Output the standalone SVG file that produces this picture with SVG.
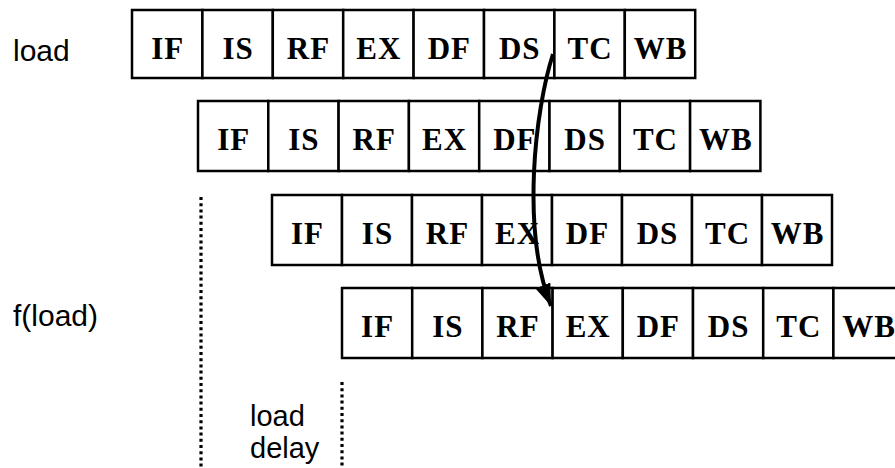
<svg xmlns="http://www.w3.org/2000/svg" width="895" height="468" viewBox="0 0 895 468">
<style>
.cell rect{fill:#fff;stroke:#000;stroke-width:2.5}
.cell text{font-family:"Liberation Serif","Times New Roman",serif;font-weight:bold;font-size:31px;letter-spacing:1px;text-anchor:middle;fill:#000}
.lbl{font-family:"Liberation Sans",Arial,sans-serif;font-size:30px;fill:#000}
.lbl2{font-family:"Liberation Sans",Arial,sans-serif;font-size:29px;fill:#000}
.dot{stroke:#000;stroke-width:3.2;stroke-dasharray:3 3.2;fill:none}
</style>
<defs>
<marker id="ah" markerUnits="userSpaceOnUse" markerWidth="24" markerHeight="20" viewBox="0 0 24 20" refX="22" refY="10" orient="auto">
<path d="M0,2 L22,10 L0,18 Z" fill="#000"/>
</marker>
</defs>
<rect width="895" height="468" fill="#fff"/>
<g id="labels">
<text class="lbl" x="13" y="61">load</text>
<text class="lbl" x="13" y="326">f(load)</text>
<text class="lbl2" x="250" y="426">load</text>
<text class="lbl2" x="250" y="458">delay</text>
</g>
<g id="row1" transform="translate(132,10)">
<g id="r1-IF" class="cell"><rect x="0" y="0" width="70.4" height="68"/><text x="35.7" y="49">IF</text></g>
<g id="r1-IS" class="cell"><rect x="70.4" y="0" width="70.4" height="68"/><text x="106.1" y="49">IS</text></g>
<g id="r1-RF" class="cell"><rect x="140.8" y="0" width="70.4" height="68"/><text x="176.5" y="49">RF</text></g>
<g id="r1-EX" class="cell"><rect x="211.2" y="0" width="70.4" height="68"/><text x="246.9" y="49">EX</text></g>
<g id="r1-DF" class="cell"><rect x="281.6" y="0" width="70.4" height="68"/><text x="317.3" y="49">DF</text></g>
<g id="r1-DS" class="cell"><rect x="352" y="0" width="70.4" height="68"/><text x="387.7" y="49">DS</text></g>
<g id="r1-TC" class="cell"><rect x="422.4" y="0" width="70.4" height="68"/><text x="458.1" y="49">TC</text></g>
<g id="r1-WB" class="cell"><rect x="492.8" y="0" width="70.4" height="68"/><text x="528.5" y="49">WB</text></g>
</g>
<g id="row2" transform="translate(198,101)">
<g id="r2-IF" class="cell"><rect x="0" y="0" width="70.3" height="70"/><text x="35.65" y="49">IF</text></g>
<g id="r2-IS" class="cell"><rect x="70.3" y="0" width="70.3" height="70"/><text x="105.95" y="49">IS</text></g>
<g id="r2-RF" class="cell"><rect x="140.6" y="0" width="70.3" height="70"/><text x="176.25" y="49">RF</text></g>
<g id="r2-EX" class="cell"><rect x="210.9" y="0" width="70.3" height="70"/><text x="246.55" y="49">EX</text></g>
<g id="r2-DF" class="cell"><rect x="281.2" y="0" width="70.3" height="70"/><text x="316.85" y="49">DF</text></g>
<g id="r2-DS" class="cell"><rect x="351.5" y="0" width="70.3" height="70"/><text x="387.15" y="49">DS</text></g>
<g id="r2-TC" class="cell"><rect x="421.8" y="0" width="70.3" height="70"/><text x="457.45" y="49">TC</text></g>
<g id="r2-WB" class="cell"><rect x="492.1" y="0" width="70.3" height="70"/><text x="527.75" y="49">WB</text></g>
</g>
<g id="row3" transform="translate(272,195)">
<g id="r3-IF" class="cell"><rect x="0" y="0" width="70" height="70"/><text x="35.5" y="49">IF</text></g>
<g id="r3-IS" class="cell"><rect x="70" y="0" width="70" height="70"/><text x="105.5" y="49">IS</text></g>
<g id="r3-RF" class="cell"><rect x="140" y="0" width="70" height="70"/><text x="175.5" y="49">RF</text></g>
<g id="r3-EX" class="cell"><rect x="210" y="0" width="70" height="70"/><text x="245.5" y="49">EX</text></g>
<g id="r3-DF" class="cell"><rect x="280" y="0" width="70" height="70"/><text x="315.5" y="49">DF</text></g>
<g id="r3-DS" class="cell"><rect x="350" y="0" width="70" height="70"/><text x="385.5" y="49">DS</text></g>
<g id="r3-TC" class="cell"><rect x="420" y="0" width="70" height="70"/><text x="455.5" y="49">TC</text></g>
<g id="r3-WB" class="cell"><rect x="490" y="0" width="70" height="70"/><text x="525.5" y="49">WB</text></g>
</g>
<g id="row4" transform="translate(342,288)">
<g id="r4-IF" class="cell"><rect x="0" y="0" width="70.2" height="70"/><text x="35.6" y="49">IF</text></g>
<g id="r4-IS" class="cell"><rect x="70.2" y="0" width="70.2" height="70"/><text x="105.8" y="49">IS</text></g>
<g id="r4-RF" class="cell"><rect x="140.4" y="0" width="70.2" height="70"/><text x="176" y="49">RF</text></g>
<g id="r4-EX" class="cell"><rect x="210.6" y="0" width="70.2" height="70"/><text x="246.2" y="49">EX</text></g>
<g id="r4-DF" class="cell"><rect x="280.8" y="0" width="70.2" height="70"/><text x="316.4" y="49">DF</text></g>
<g id="r4-DS" class="cell"><rect x="351" y="0" width="70.2" height="70"/><text x="386.6" y="49">DS</text></g>
<g id="r4-TC" class="cell"><rect x="421.2" y="0" width="70.2" height="70"/><text x="456.8" y="49">TC</text></g>
<g id="r4-WB" class="cell"><rect x="491.4" y="0" width="70.2" height="70"/><text x="527" y="49">WB</text></g>
</g>
<g id="connectors">
<line class="dot" x1="201" y1="197" x2="201" y2="468"/>
<line class="dot" x1="342" y1="382" x2="342" y2="468"/>
<path d="M553,54 C535,110 521,230 551,306" fill="none" stroke="#000" stroke-width="4" marker-end="url(#ah)"/>
</g>
</svg>
